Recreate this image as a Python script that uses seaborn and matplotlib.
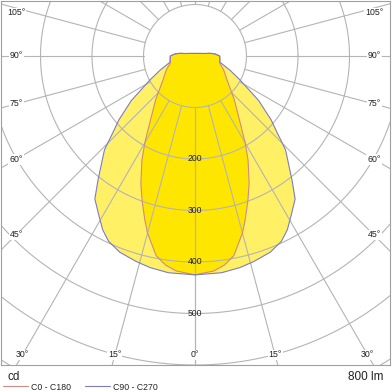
import numpy as np
import pandas as pd
import matplotlib
matplotlib.use('Agg')
import matplotlib.pyplot as plt
import seaborn as sns

sns.set_style('white')
plt.rcParams['font.family'] = ['Liberation Sans', 'DejaVu Sans']

# luminous intensity (cd) per gamma angle (deg)
gamma_c0 = [0, 5, 8, 11, 15, 17, 20, 23, 27, 30, 35, 42, 53, 64, 74, 90,
            96, 100, 104, 117, 180]
c0_c180 = [425, 419, 410, 395, 356, 333, 300, 269, 227, 195, 150, 114, 78, 62,
           50, 48, 39, 30, 20, 11, 5]
gamma_c90 = [0, 7, 12, 16, 21, 25, 28, 31, 35, 38, 44, 47, 50, 55, 62, 68, 76,
             90, 96, 100, 104, 117, 180]
c90_c270 = [425, 424, 420, 415, 408, 397, 382, 362, 339, 306, 253, 218, 193,
            151, 99, 73, 50, 48, 39, 30, 20, 11, 5]
curve_names = ['C0 - C180', 'C90 - C270']
grid_radii = [100, 200, 300, 400, 500, 600, 700, 800]
value_labels = [200, 300, 400, 500]
angle_side = [45, 60, 75, 90, 105]
angle_bottom = [0, 15, 30]
flux_text = '800 lm'
unit_text = 'cd'

line_colors = ['#cf8a86', '#7c7cc4']
fill_colors = ['#ffe600', '#fff066']
grid_color = '#b4b4b4'


def polar_xy(angles, values):
    th = np.radians(np.concatenate([-np.array(angles[::-1]), np.array(angles[1:])]))
    v = np.concatenate([np.array(values[::-1]), np.array(values[1:])])
    return v * np.sin(th), -v * np.cos(th)


rows = []
for name, ang, vals in zip(curve_names, [gamma_c0, gamma_c90], [c0_c180, c90_c270]):
    x, y = polar_xy(ang, vals)
    rows.append(pd.DataFrame({'x': x, 'y': y, 'curve': name}))
df = pd.concat(rows, ignore_index=True)

fig = plt.figure(figsize=(3.92, 3.92), dpi=100)
ax = fig.add_axes([1 / 392, 27 / 392, 389 / 392, 364 / 392])

s = 0.515  # px per cd
lpx, rpx, upx, dpx = 194, 195, 55, 309
ax.set_xlim(-lpx / s, rpx / s)
ax.set_ylim(-dpx / s, upx / s)

# fills: wide first, narrow on top
for name, fc, z in [(curve_names[1], fill_colors[1], 1), (curve_names[0], fill_colors[0], 1.1)]:
    d = df[df.curve == name]
    ax.fill(d.x, d.y, color=fc, lw=0, zorder=z)

# grid
t = np.linspace(0, 2 * np.pi, 721)
for r in grid_radii:
    ax.plot(r * np.cos(t), r * np.sin(t), color=grid_color, lw=0.8, zorder=2)
for a in range(0, 181, 15):
    for sg in (-1, 1):
        th = np.radians(a)
        ax.plot([sg * 100 * np.sin(th), sg * 1200 * np.sin(th)],
                [-100 * np.cos(th), -1200 * np.cos(th)],
                color=grid_color, lw=0.8, zorder=2)

sns.lineplot(data=df, x='x', y='y', hue='curve', sort=False, estimator=None,
             palette=line_colors, lw=0.8, ax=ax, zorder=3)
handles, labels = ax.get_legend_handles_labels()
ax.get_legend().remove()

# value labels
for r in value_labels:
    ax.text(0, -r, str(r), ha='center', va='center', fontsize=6.2, color='#222222', zorder=4)

# angle labels
bb = dict(boxstyle='square,pad=0.1', fc='white', ec='none')
xl = (rpx - 16) / s
for a in angle_side:
    y = -xl / np.tan(np.radians(a)) if a != 90 else 0
    y = min(y, (upx - 12) / s)
    for sg in (-1, 1):
        ax.text(sg * xl, y, f'{a}°', ha='center', va='center', fontsize=6.3,
                color='#222222', bbox=bb, zorder=4)
yb = -(dpx - 10) / s
for a in angle_bottom:
    x = min(-yb * np.tan(np.radians(a)), (rpx - 16) / s)
    for sg in ((1,) if a == 0 else (-1, 1)):
        ax.text(sg * x, yb, f'{a}°', ha='center', va='center', fontsize=6.3,
                color='#222222', bbox=bb, zorder=4)

ax.set_xticks([])
ax.set_yticks([])
ax.set_xlabel('')
ax.set_ylabel('')
for sp in ax.spines.values():
    sp.set_visible(True)
    sp.set_color('#a0a0a0')
    sp.set_linewidth(0.8)

fig.text(7 / 392, 1 - 377 / 392, unit_text, ha='left', va='center', fontsize=8.5, color='#222222')
fig.text(384 / 392, 1 - 377 / 392, flux_text, ha='right', va='center', fontsize=8.5, color='#222222')
fig.legend(handles, labels, loc='center left', bbox_to_anchor=(3 / 392, 5 / 392),
           ncol=2, frameon=False, fontsize=6.3, handlelength=2.9, handletextpad=0.35,
           columnspacing=1.5, borderpad=0, borderaxespad=0)

fig.savefig('out.png', dpi=100)
